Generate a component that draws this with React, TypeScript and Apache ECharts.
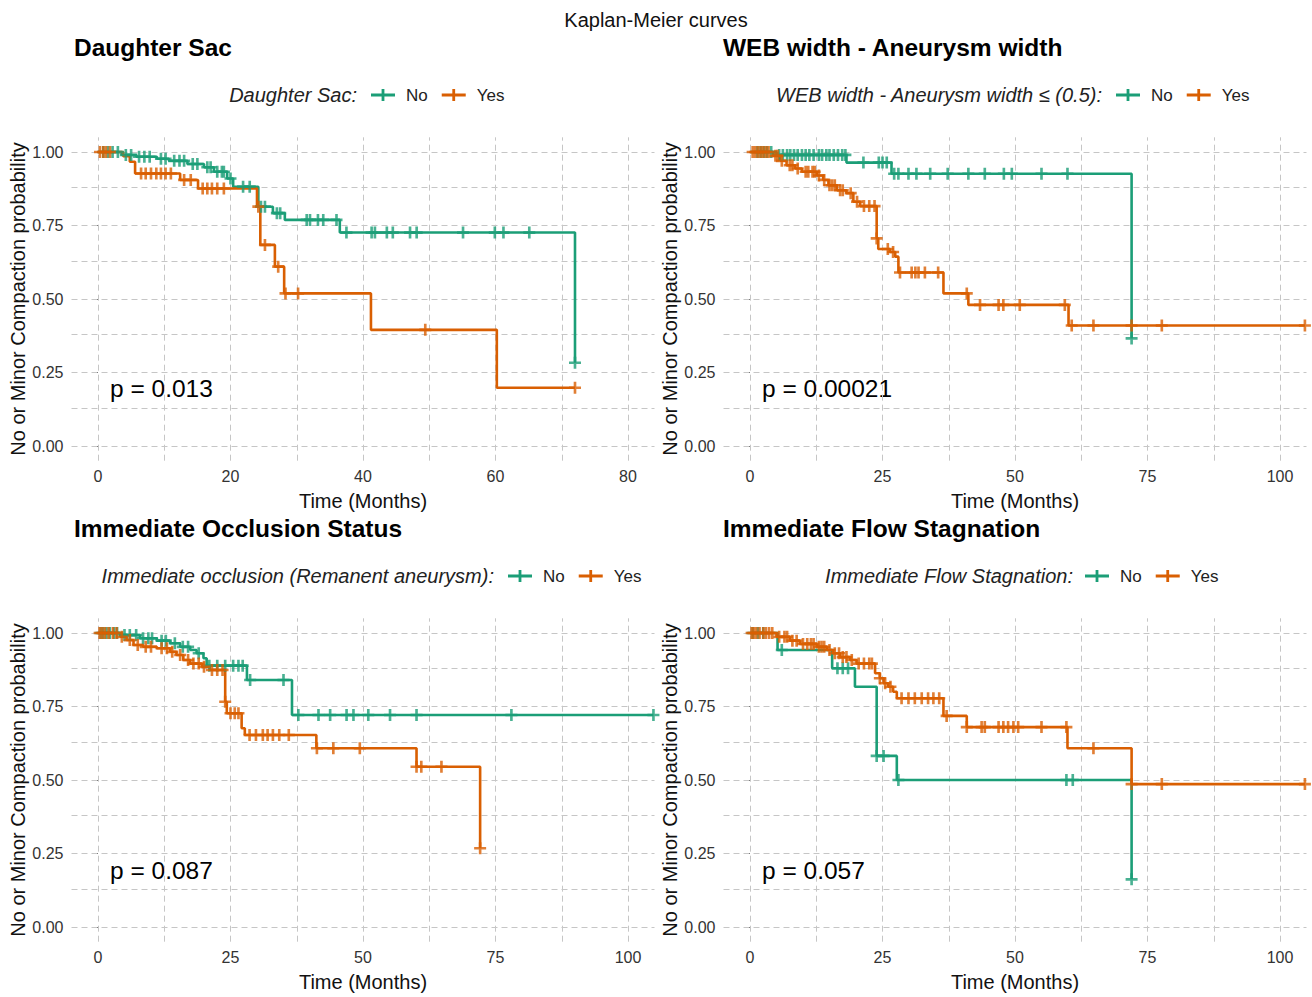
import React, { useEffect, useRef } from "react";
import * as echarts from "echarts";

// ---------- colours & text ----------
const GREEN = "#1B9E77";
const ORANGE = "#D95F02";
const GROUPS = ["No", "Yes"];
const MAIN_TITLE = "Kaplan-Meier curves";
const PANEL_TITLES = [
  "Daughter Sac",
  "WEB width - Aneurysm width",
  "Immediate Occlusion Status",
  "Immediate Flow Stagnation",
];
const LEGEND_TITLES = [
  "Daughter Sac:",
  "WEB width - Aneurysm width \u2264 (0.5):",
  "Immediate occlusion (Remanent aneurysm):",
  "Immediate Flow Stagnation:",
];
const P_VALUES = ["p = 0.013", "p = 0.00021", "p = 0.087", "p = 0.057"];
const X_NAME = "Time (Months)";
const Y_NAME = "No or Minor Compaction probability";

// ---------- axes ----------
const Y_TICKS = [0, 0.25, 0.5, 0.75, 1];
const Y_GRID = [0, 0.125, 0.25, 0.375, 0.5, 0.625, 0.75, 0.875, 1];
const X_TICKS_A = [0, 20, 40, 60, 80];
const X_GRID_A = [0, 10, 20, 30, 40, 50, 60, 70, 80];
const X_TICKS_B = [0, 25, 50, 75, 100];
const X_GRID_B = [0, 12.5, 25, 37.5, 50, 62.5, 75, 87.5, 100];
const X_RANGE_A = [-4, 84];
const X_RANGE_B = [-5, 105];
const Y_RANGE = [-0.05, 1.05];

// ---------- Panel 1: Daughter Sac ----------
const P1_NO_STEPS: [number, number][] = [
  [0, 1], [3.6, 0.99], [5.8, 0.984], [8.9, 0.977], [10.7, 0.97], [13.5, 0.959],
  [16, 0.948], [17.5, 0.933], [19.5, 0.91], [20.4, 0.882], [24.2, 0.814],
  [26.4, 0.792], [28.2, 0.769], [36.5, 0.726], [72, 0.283],
];
const P1_NO_CENSOR = [
  0.8, 1.5, 2.2, 3, 4.2, 5, 6.2, 7, 7.8, 9.5, 10.2, 11.5, 12.3, 13, 14.3, 15,
  16.5, 17, 18, 18.7, 19, 20, 21.9, 22.9, 24.6, 25.2, 27, 27.5, 31.5, 32, 33.2,
  34, 36, 37.5, 41.3, 41.8, 43.6, 44.5, 47.1, 48.1, 55.1, 59.9, 61.2, 65.1, 72,
];
const P1_YES_STEPS: [number, number][] = [
  [0, 1], [3.8, 0.986], [4.8, 0.967], [5.6, 0.927], [12.4, 0.905], [15.1, 0.876],
  [24, 0.814], [24.5, 0.684], [26.7, 0.61], [28.1, 0.519], [41.2, 0.395], [60.2, 0.198],
];
const P1_YES_CENSOR = [
  0.3, 0.8, 1.2, 1.8, 6.5, 7.2, 8, 8.8, 9.5, 10.2, 11, 13, 14, 15.8, 16.5, 17.2,
  18, 19, 24.2, 25.2, 27.2, 28.3, 30.2, 49.4, 72,
];

// ---------- Panel 2: WEB width - Aneurysm width ----------
const P2_NO_STEPS: [number, number][] = [
  [0, 1], [5, 0.99], [18.2, 0.964], [26.7, 0.926], [72, 0.366],
];
const P2_NO_CENSOR = [
  1.4, 2, 2.6, 3.2, 4, 5.5, 6.2, 7, 7.6, 8.3, 9, 9.8, 10.5, 11.2, 12, 13, 13.6,
  14.4, 15, 15.8, 16.6, 17.4, 18, 21.4, 24.3, 25, 25.8, 27.2, 28, 29.9, 31.4, 34,
  37.3, 41.2, 44.3, 47.9, 49.4, 55, 59.9, 72,
];
const P2_YES_STEPS: [number, number][] = [
  [0, 1], [4.4, 0.987], [5.7, 0.97], [6.9, 0.955], [8.5, 0.944], [9.8, 0.933],
  [12.6, 0.92], [13.8, 0.905], [14.8, 0.887], [16.4, 0.87], [18.2, 0.86],
  [19.5, 0.831], [20.8, 0.816], [23.9, 0.706], [24.2, 0.67], [26.4, 0.66],
  [27.4, 0.644], [28, 0.59], [36.5, 0.519], [41.2, 0.48], [60.1, 0.41],
];
const P2_YES_CENSOR = [
  0.5, 1, 1.5, 2, 2.5, 3, 3.5, 4.8, 5.2, 6, 7.5, 8, 9, 10.5, 11, 11.8, 12.2, 13,
  14, 15, 15.5, 16, 17, 17.5, 19, 20.2, 21.5, 22.5, 23.5, 23.9, 26, 27, 28.3,
  30.5, 31.2, 31.8, 33, 35.5, 40.9, 43.4, 46.9, 47.8, 50.9, 59.4, 60.7, 64.8, 72,
  77.7, 104.7,
];

// ---------- Panel 3: Immediate Occlusion Status ----------
const P3_NO_STEPS: [number, number][] = [
  [0, 1], [4.2, 0.993], [7.9, 0.982], [11.1, 0.974], [13.6, 0.965], [15.5, 0.953],
  [17.4, 0.942], [18.6, 0.931], [19.9, 0.914], [20.5, 0.889], [28.1, 0.84],
  [36.6, 0.721],
];
const P3_NO_CENSOR = [
  0.5, 1, 1.6, 2.2, 3, 3.6, 5, 6, 7.2, 8.5, 9.5, 10.2, 12, 12.8, 14.5, 16, 17, 19,
  21, 22.5, 24, 25.5, 26.5, 27.3, 28.7, 35, 37.8, 41.6, 43.8, 46.9, 48.2, 51, 55.1,
  60.1, 78, 104.8,
];
const P3_YES_STEPS: [number, number][] = [
  [0, 1], [4.2, 0.987], [5.4, 0.976], [6.7, 0.959], [8.5, 0.953], [11.1, 0.948],
  [13.6, 0.936], [14.8, 0.925], [16.1, 0.908], [17.4, 0.896], [19.6, 0.885],
  [21.1, 0.874], [24, 0.766], [24.3, 0.727], [27.1, 0.676], [27.7, 0.653],
  [41.2, 0.608], [60.1, 0.545], [72.1, 0.268],
];
const P3_YES_CENSOR = [
  0.3, 0.8, 1.3, 2, 2.8, 3.5, 4.5, 6, 7.5, 9, 10, 12, 13, 14, 15.5, 17, 18, 19, 20,
  21.5, 22.5, 23.5, 24, 25, 25.8, 26.5, 28.6, 29.8, 31.1, 32, 33, 34.2, 36, 41.3,
  44.4, 49.4, 60.1, 61, 64.8, 72.1,
];

// ---------- Panel 4: Immediate Flow Stagnation ----------
const P4_NO_STEPS: [number, number][] = [
  [0, 1], [5.2, 0.942], [15.5, 0.88], [19.8, 0.817], [23.9, 0.582], [27.7, 0.5],
  [72, 0.162],
];
const P4_NO_CENSOR = [0.5, 1.5, 2.5, 6, 16.5, 17.5, 18.5, 23.9, 25.2, 28, 59.7, 60.9, 72];
const P4_YES_STEPS: [number, number][] = [
  [0, 1], [5, 0.987], [7.5, 0.974], [9.4, 0.963], [12.6, 0.953], [14.5, 0.942],
  [15.7, 0.931], [17, 0.918], [18.9, 0.908], [20.1, 0.896], [23.6, 0.863],
  [24.5, 0.846], [25.2, 0.829], [26.1, 0.817], [27, 0.8], [27.7, 0.778],
  [36.5, 0.718], [40.9, 0.68], [59.9, 0.608], [72, 0.486],
];
const P4_YES_CENSOR = [
  0.3, 0.7, 1.2, 1.8, 2.5, 3, 3.6, 4.2, 5.5, 6.5, 7, 8, 8.8, 10, 10.8, 11.5, 12,
  13, 13.5, 14, 15, 16, 16.8, 17.5, 18.2, 19.2, 20.5, 21.5, 22.5, 23, 24.5, 25.5,
  26.5, 28.6, 29.9, 31.1, 32.4, 33.6, 34.6, 35.7, 37.1, 40.9, 43.7, 44.3, 46.9,
  47.8, 48.7, 49.7, 50.6, 55, 59.7, 64.8, 72, 77.7, 104.7,
];

// ---------- layout ----------
const FONT = "'Liberation Sans', Arial, sans-serif";
const GRID_W = 583;
const GRID_H = 323.4;
const GRID_LEFT = [71.5, 723.5, 71.5, 723.5];
const GRID_TOP = [137.3, 137.3, 618.3, 618.3];
const TITLE_X = [74, 723, 74, 723];
const TITLE_Y = [47, 47, 528, 528];
const LEGEND_Y = [95, 95, 576, 576];
const LEGEND_TITLE_RIGHT = [357, 1102, 494, 1073];
const LEGEND_LEFT = [366, 1111, 503, 1080];
const PVAL_X = [110, 762, 110, 762];
const PVAL_Y = [388, 388, 870, 870];

const CROSS = "path://M3.9,0 H6.1 V3.9 H10 V6.1 H6.1 V10 H3.9 V6.1 H0 V3.9 H3.9 Z";
const LEGEND_ICON = "path://M0,4.6 H24 V7.4 H0 Z M10.6,0 H13.4 V12 H10.6 Z";

const PANELS = [
  { steps: [P1_NO_STEPS, P1_YES_STEPS], censor: [P1_NO_CENSOR, P1_YES_CENSOR], xr: X_RANGE_A, xt: X_TICKS_A, xg: X_GRID_A },
  { steps: [P2_NO_STEPS, P2_YES_STEPS], censor: [P2_NO_CENSOR, P2_YES_CENSOR], xr: X_RANGE_B, xt: X_TICKS_B, xg: X_GRID_B },
  { steps: [P3_NO_STEPS, P3_YES_STEPS], censor: [P3_NO_CENSOR, P3_YES_CENSOR], xr: X_RANGE_B, xt: X_TICKS_B, xg: X_GRID_B },
  { steps: [P4_NO_STEPS, P4_YES_STEPS], censor: [P4_NO_CENSOR, P4_YES_CENSOR], xr: X_RANGE_B, xt: X_TICKS_B, xg: X_GRID_B },
];
const COLORS = [GREEN, ORANGE];

function survAt(steps: [number, number][], t: number): number {
  let s = steps[0][1];
  for (const [st, sv] of steps) {
    if (st <= t + 1e-9) s = sv;
    else break;
  }
  return s;
}

function buildOption() {
  const grid: any[] = [];
  const xAxis: any[] = [];
  const yAxis: any[] = [];
  const series: any[] = [];
  const legend: any[] = [];
  const graphic: any[] = [];

  graphic.push({
    type: "text",
    x: 656,
    y: 20,
    style: {
      text: MAIN_TITLE, fill: "#111", font: `20px ${FONT}`,
      align: "center", verticalAlign: "middle", textAlign: "center", textVerticalAlign: "middle",
    },
  });

  PANELS.forEach((p, i) => {
    grid.push({ left: GRID_LEFT[i], top: GRID_TOP[i], width: GRID_W, height: GRID_H, containLabel: false });
    xAxis.push({
      type: "value", gridIndex: i, min: p.xr[0], max: p.xr[1],
      axisLine: { show: false },
      axisTick: { show: true, length: 4, lineStyle: { color: "#333", width: 1 }, customValues: p.xt },
      axisLabel: { customValues: p.xt, fontSize: 16, color: "#333", margin: 8, fontFamily: FONT },
      splitLine: { show: false },
      name: X_NAME, nameLocation: "middle", nameGap: 30,
      nameTextStyle: { fontSize: 20, color: "#111", fontFamily: FONT },
    });
    yAxis.push({
      type: "value", gridIndex: i, min: Y_RANGE[0], max: Y_RANGE[1],
      axisLine: { show: false },
      axisTick: { show: true, length: 4, lineStyle: { color: "#333", width: 1 }, customValues: Y_TICKS },
      axisLabel: {
        customValues: Y_TICKS, fontSize: 16, color: "#333", margin: 8, fontFamily: FONT,
        formatter: (v: number) => v.toFixed(2),
      },
      splitLine: { show: false },
      name: Y_NAME, nameLocation: "middle", nameGap: 43,
      nameTextStyle: { fontSize: 20, color: "#111", fontFamily: FONT },
    });

    // background grid lines
    series.push({
      type: "line", name: "grid" + i, xAxisIndex: i, yAxisIndex: i,
      data: [[0, 1]], symbol: "none", lineStyle: { opacity: 0 }, silent: true, z: 1,
      markLine: {
        z: 1, silent: true, symbol: ["none", "none"], label: { show: false },
        emphasis: { disabled: true },
        lineStyle: { color: "#c6c6c6", width: 1, type: [6, 4] },
        data: [
          ...p.xg.map((v) => ({ xAxis: v })),
          ...Y_GRID.map((v) => ({ yAxis: v })),
        ],
      },
    });

    [0, 1].forEach((g) => {
      const steps = p.steps[g];
      const cens = p.censor[g];
      const lastT = steps[steps.length - 1][0];
      const lastS = steps[steps.length - 1][1];
      const maxC = Math.max(...cens);
      const lineData = steps.map((d) => [d[0], d[1]]);
      if (maxC > lastT) lineData.push([maxC, lastS]);
      series.push({
        type: "line", name: GROUPS[g], xAxisIndex: i, yAxisIndex: i,
        step: "end", data: lineData, symbol: "none", showSymbol: false,
        color: COLORS[g], itemStyle: { color: COLORS[g] },
        lineStyle: { color: COLORS[g], width: 2.6 }, z: 3, silent: true,
      });
      series.push({
        type: "scatter", name: GROUPS[g] + " censored", xAxisIndex: i, yAxisIndex: i,
        data: cens.map((t) => [t, survAt(steps, t)]),
        symbol: CROSS, symbolSize: 12,
        itemStyle: { color: COLORS[g] }, z: 4, silent: true,
      });
    });

    legend.push({
      left: LEGEND_LEFT[i], top: LEGEND_Y[i] - 15, orient: "horizontal",
      itemWidth: 24, itemHeight: 12, itemGap: 14, selectedMode: false,
      textStyle: { fontSize: 17, color: "#222", fontFamily: FONT, lineHeight: 20, padding: [0, 0, 0, 6] },
      data: GROUPS.map((n) => ({ name: n, icon: LEGEND_ICON })),
    });

    graphic.push({
      type: "text", x: TITLE_X[i], y: TITLE_Y[i],
      style: {
        text: PANEL_TITLES[i], fill: "#000", font: `bold 24.5px ${FONT}`,
        align: "left", verticalAlign: "middle", textAlign: "left", textVerticalAlign: "middle",
      },
    });
    graphic.push({
      type: "text", x: LEGEND_TITLE_RIGHT[i], y: LEGEND_Y[i],
      style: {
        text: LEGEND_TITLES[i], fill: "#222", font: `italic 20px ${FONT}`,
        align: "right", verticalAlign: "middle", textAlign: "right", textVerticalAlign: "middle",
      },
    });
    graphic.push({
      type: "text", x: PVAL_X[i], y: PVAL_Y[i],
      style: {
        text: P_VALUES[i], fill: "#000", font: `24.5px ${FONT}`,
        align: "left", verticalAlign: "middle", textAlign: "left", textVerticalAlign: "middle",
      },
    });
  });

  return {
    animation: false,
    backgroundColor: "#ffffff",
    textStyle: { fontFamily: FONT },
    grid, xAxis, yAxis, series, legend, graphic,
  };
}

export default function App() {
  const ref = useRef<HTMLDivElement>(null);
  useEffect(() => {
    if (!ref.current) return;
    const chart = echarts.init(ref.current, undefined, { renderer: "svg" });
    chart.setOption(buildOption() as any);
    return () => chart.dispose();
  }, []);
  return (
    <div
      ref={ref}
      style={{ position: "absolute", left: 0, top: 0, width: 1312, height: 997, background: "#fff" }}
    />
  );
}
